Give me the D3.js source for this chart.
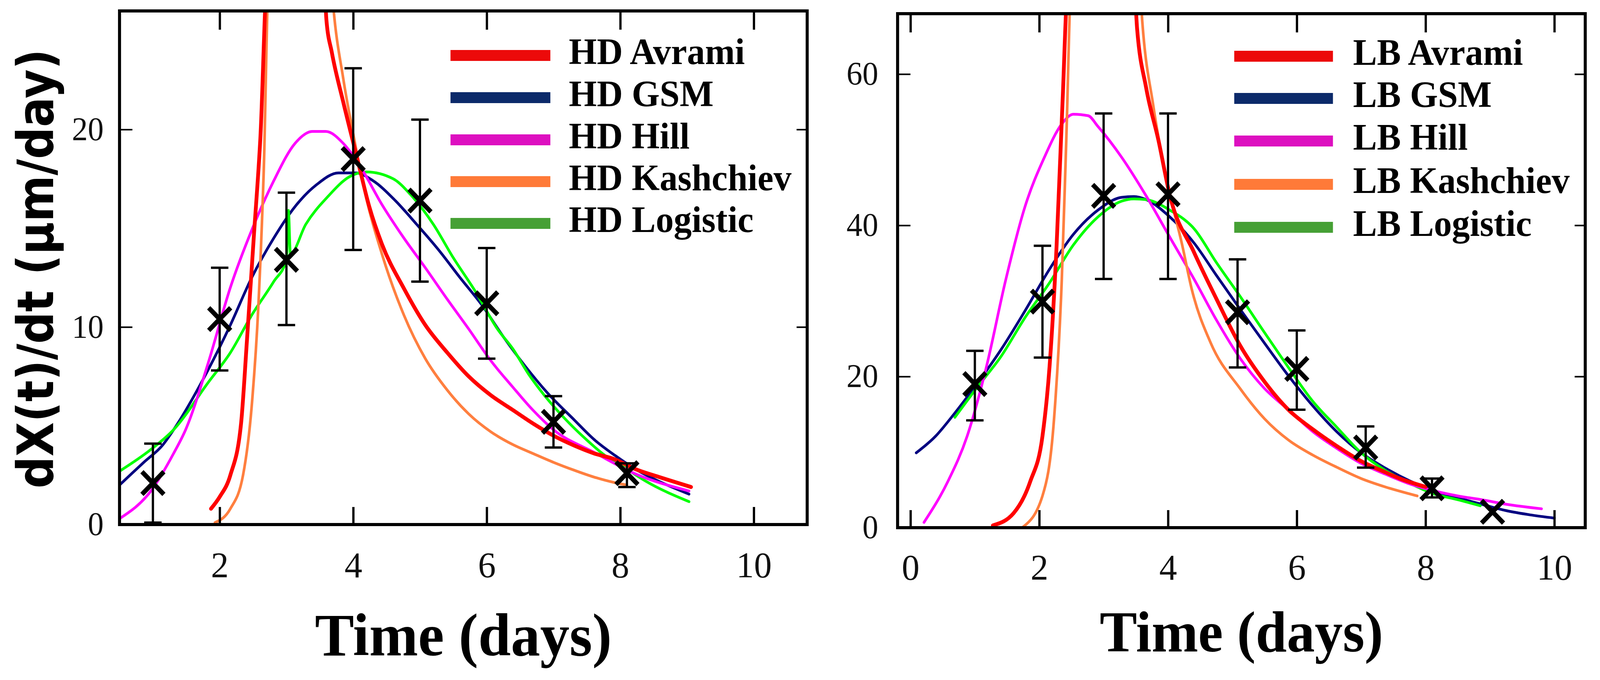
<!DOCTYPE html>
<html>
<head>
<meta charset="utf-8">
<script src="https://cdn.jsdelivr.net/npm/d3@7.9.0/dist/d3.min.js"></script>
<style>
  html, body { margin: 0; padding: 0; background: #fff; overflow: hidden; width: 100%; height: 100%; }
  svg { display: block; width: 100vw; height: 100vh; }
  .tick text { font-family: "Liberation Serif", "Times New Roman", serif; fill: #111; }
  .legend text, .xtitle { font-family: "Liberation Serif", "Times New Roman", serif; font-weight: bold; fill: #000; }
</style>
</head>
<body>
<svg id="chart" viewBox="0 0 4230 1741" preserveAspectRatio="none"></svg>
<script>
// model names, same order in both panels
const seriesNames = ['Avrami', 'GSM', 'Hill', 'Kashchiev', 'Logistic'];
const lineColors = ['#ff0000', '#000080', '#ff00ff', '#ff7f3f', '#00ff00'];
const legendColors = ['#ec0a0a', '#0c2a6a', '#dd10c0', '#ff7a38', '#46a035'];

// HD measurements (left panel)
const hdTime = [1, 2, 3, 4, 5, 6, 7, 8.1];
const hdRate = [2.1, 10.4, 13.4, 18.5, 16.4, 11.2, 5.2, 2.6];
const hdLow = [0.1, 7.8, 10.1, 13.9, 12.3, 8.4, 3.9, 1.9];
const hdHigh = [4.1, 13.0, 16.8, 23.1, 20.5, 14.0, 6.5, 3.1];

// HD fitted curves, [time, rate]
const hdAvrami = [[1.87,0.8],[2.0,1.4],[2.16,2.5],[2.32,5.1],[2.41,9.4],[2.51,14.5],[2.61,19.6],[2.72,28],[3.55,28],[3.6,25.5],
  [3.68,23.9],[3.85,21.4],[4.07,18.4],[4.24,16.1],[4.43,14.2],[4.76,11.95],[5.08,10.1],[5.41,8.7],[5.73,7.5],[6.06,6.55],
  [6.39,5.8],[6.7,5.1],[7.0,4.5],[7.31,4.0],[7.61,3.6],[7.92,3.3],[8.23,2.8],[8.54,2.45],[9.06,1.9]];
const hdGsm = [[0.5,2.0],[0.88,3.2],[1.14,4.0],[1.31,4.8],[1.83,7.85],[2.16,10.1],[2.48,12.5],[2.81,14.5],[3.13,16.1],
  [3.45,17.2],[3.78,17.8],[4.04,17.8],[4.3,17.4],[4.63,16.4],[4.95,15.2],[5.28,13.9],[5.6,12.5],[5.93,11.1],[6.25,9.5],
  [6.58,8.0],[6.9,6.7],[7.31,5.3],[7.61,4.3],[7.92,3.5],[8.23,2.8],[8.54,2.25],[9.03,1.54]];
const hdHill = [[0.5,0.3],[0.97,1.7],[1.31,3.6],[1.49,4.8],[1.83,8.2],[2.16,12.0],[2.48,14.9],[2.81,17.4],[3.13,19.3],
  [3.39,19.9],[3.59,19.9],[3.85,19.3],[4.11,18.1],[4.43,16.2],[4.76,14.5],[5.08,13.0],[5.41,11.4],[5.73,9.9],[6.06,8.3],
  [6.38,7.0],[6.69,5.8],[7.0,4.8],[7.61,3.65],[8.23,2.56],[9.03,1.7]];
const hdKashchiev = [[1.93,0.1],[2.16,0.8],[2.35,2.5],[2.48,6.0],[2.58,11.1],[2.66,17.9],[2.74,28],[3.66,28],[3.7,26.3],
  [3.85,22.6],[4.01,19.6],[4.17,16.9],[4.43,13.7],[4.76,10.6],[5.08,8.4],[5.41,6.8],[5.73,5.6],[6.06,4.7],[6.39,4.05],
  [6.69,3.6],[7.0,3.15],[7.31,2.75],[7.61,2.4],[7.92,2.12],[8.1,2.0]];
const hdLogistic = [[0.5,2.7],[0.97,3.8],[1.31,4.8],[1.83,7.2],[2.16,8.7],[2.48,10.6],[2.81,12.3],[3.0,13.4],[3.03,15.9],
  [3.06,13.7],[3.29,15.2],[3.62,16.6],[3.94,17.6],[4.2,17.85],[4.6,17.5],[4.86,16.7],[5.2,15.2],[5.5,13.5],[5.83,11.8],
  [6.16,9.9],[6.39,8.9],[6.63,7.6],[6.85,6.6],[7.16,5.4],[7.46,4.4],[7.77,3.5],[8.1,2.8],[8.38,2.2],[9.03,1.16]];

// LB measurements (right panel)
const lbTime = [1, 2.05, 3, 4, 5.08, 6, 7.07, 8.1, 9.04];
const lbRate = [19.0, 29.9, 43.9, 44.1, 28.5, 21.0, 10.6, 5.2, 2.1];
const lbLow = [14.2, 22.5, 32.9, 32.9, 21.2, 15.6, 7.95, 4.0, 2.1];
const lbHigh = [23.4, 37.3, 54.8, 54.8, 35.5, 26.1, 13.4, 6.5, 2.1];

// LB fitted curves, [time, rate]
const lbAvrami = [[1.28,0.3],[1.6,1.9],[1.86,6.1],[2.05,12.1],[2.16,21.3],[2.27,37.4],[2.36,55.9],[2.45,72],[3.47,72],
  [3.52,66],[3.66,58.2],[3.85,51.3],[4.03,43.9],[4.4,36.5],[4.75,30.3],[5.12,24.1],[5.5,19.3],[5.87,15.6],[6.25,13.0],
  [6.62,10.8],[7.0,8.8],[7.37,7.35],[7.6,6.5],[8.0,5.4]];
const lbGsm = [[0.09,9.9],[0.39,12.1],[0.66,14.85],[1.03,19.0],[1.41,23.6],[1.78,28.7],[2.16,34.2],[2.53,38.8],[2.91,42.0],
  [3.28,43.7],[3.47,43.8],[3.66,43.4],[4.03,41.1],[4.41,37.6],[4.75,33.4],[5.12,28.9],[5.5,24.4],[5.87,20.1],[6.25,16.1],
  [6.62,12.7],[7.0,9.9],[7.37,7.9],[7.75,6.2],[8.12,4.9],[8.5,3.95],[8.87,3.1],[9.25,2.26],[9.62,1.7],[10.0,1.27]];
const lbHill = [[0.21,0.7],[0.58,6.1],[0.88,12.1],[1.18,21.3],[1.48,32.8],[1.78,42.5],[2.08,49.0],[2.35,53.4],[2.53,54.7],
  [2.76,54.5],[2.91,53.1],[3.28,49.0],[3.66,43.9],[4.03,38.4],[4.41,32.8],[4.75,27.5],[5.12,22.4],[5.5,18.4],[5.87,15.6],
  [6.25,12.7],[6.62,10.5],[7.0,8.5],[7.37,7.1],[7.75,5.8],[8.12,4.9],[8.5,4.2],[8.87,3.7],[9.25,3.1],[9.8,2.5]];
const lbKashchiev = [[1.75,0.1],[2.05,4.2],[2.23,14.4],[2.35,32.8],[2.42,51.3],[2.5,72],[3.56,72],[3.6,67],[3.77,55.9],
  [3.96,46.7],[4.22,37.4],[4.37,31.5],[4.66,24.5],[5.12,18.4],[5.5,14.4],[5.87,11.6],[6.25,9.6],[6.62,8.0],[7.0,6.5],
  [7.37,5.4],[7.87,4.2]];
const lbLogistic = [[0.69,14.6],[1.03,18.5],[1.41,22.7],[1.78,27.8],[2.16,32.4],[2.53,37.4],[2.91,41.1],[3.28,43.2],
  [3.47,43.5],[3.66,43.4],[4.03,42.0],[4.41,39.5],[4.75,35.1],[5.12,30.6],[5.5,25.8],[5.87,21.2],[6.25,16.7],[6.62,13.3],
  [7.0,9.9],[7.37,7.6],[7.75,5.9],[8.12,4.5],[8.5,3.7],[8.85,2.9]];

// axis ticks
const hdXTicks = [2, 4, 6, 8, 10];
const hdYTicks = [0, 10, 20];
const lbXTicks = [0, 2, 4, 6, 8, 10];
const lbYTicks = [0, 20, 40, 60];

const yTitle = 'dX(t)/dt (\u03bcm/day)';
const xTitle = 'Time (days)';

const svg = d3.select('#chart');

const panels = [
  {
    id: 'hd', prefix: 'HD', xDomain: [0.5, 10.8], yDomain: [0, 26],
    left: 316, right: 2134, top: 28, bottom: 1343,
    curves: [hdAvrami, hdGsm, hdHill, hdKashchiev, hdLogistic],
    time: hdTime, rate: hdRate, low: hdLow, high: hdHigh,
    xTicks: hdXTicks, yTicks: hdYTicks,
    xPad: 68, yPad: 42,
    legendX: 1191, legendX2: 1455, legendTextX: 1504, legendBase: [164, 272, 380, 487, 594],
    titleSize: 155, titleBase: 1678
  },
  {
    id: 'lb', prefix: 'LB', xDomain: [-0.2, 10.48], yDomain: [0, 68],
    left: 2373, right: 4191, top: 35, bottom: 1351,
    curves: [lbAvrami, lbGsm, lbHill, lbKashchiev, lbLogistic],
    time: lbTime, rate: lbRate, low: lbLow, high: lbHigh,
    xTicks: lbXTicks, yTicks: lbYTicks,
    xPad: 66, yPad: 51,
    legendX: 3263, legendX2: 3524, legendTextX: 3577, legendBase: [166, 274, 383, 494, 604],
    titleSize: 148, titleBase: 1668
  }
];

// draw order: navy, green, magenta, orange, then red on top
const drawOrder = [1, 4, 2, 3, 0];

function drawPanel(p) {
  const g = svg.append('g').attr('class', 'panel-' + p.id);
  const x = d3.scaleLinear().domain(p.xDomain).range([p.left, p.right]);
  const y = d3.scaleLinear().domain(p.yDomain).range([p.bottom, p.top]);

  svg.append('clipPath').attr('id', 'clip-' + p.id)
    .append('rect')
    .attr('x', p.left).attr('y', p.top)
    .attr('width', p.right - p.left).attr('height', p.bottom - p.top);

  const line = d3.line()
    .x(d => x(d[0]))
    .y(d => y(d[1]))
    .curve(d3.curveMonotoneX);

  const curveG = g.append('g').attr('clip-path', `url(#clip-${p.id})`);
  drawOrder.forEach(i => {
    curveG.append('path')
      .datum(p.curves[i])
      .attr('d', line)
      .attr('fill', 'none')
      .attr('stroke', lineColors[i])
      .attr('stroke-width', i === 0 ? 10 : 7)
      .attr('stroke-linejoin', 'round')
      .attr('stroke-linecap', 'round');
  });

  // error bars
  const pts = p.time.map((t, i) => ({ t, v: p.rate[i], lo: p.low[i], hi: p.high[i] }));
  const eb = g.append('g').attr('stroke', '#000').attr('stroke-width', 6).attr('fill', 'none');
  pts.filter(d => d.hi > d.lo).forEach(d => {
    eb.append('line').attr('x1', x(d.t)).attr('x2', x(d.t)).attr('y1', y(d.lo)).attr('y2', y(d.hi));
    eb.append('line').attr('x1', x(d.t) - 23).attr('x2', x(d.t) + 23).attr('y1', y(d.lo)).attr('y2', y(d.lo));
    eb.append('line').attr('x1', x(d.t) - 23).attr('x2', x(d.t) + 23).attr('y1', y(d.hi)).attr('y2', y(d.hi));
  });

  // X markers
  g.append('g').selectAll('path')
    .data(pts)
    .join('path')
    .attr('transform', d => `translate(${x(d.t)},${y(d.v)})`)
    .attr('d', 'M-29,-29L29,29M-29,29L29,-29')
    .attr('stroke', '#000')
    .attr('stroke-width', 12)
    .attr('fill', 'none');

  // axes with inward ticks
  const xb = g.append('g').attr('transform', `translate(0,${p.bottom})`)
    .call(d3.axisBottom(x).tickValues(p.xTicks).tickSize(-45).tickPadding(p.xPad).tickFormat(d3.format('d')));
  xb.selectAll('text').attr('font-size', 94);
  const xt = g.append('g').attr('transform', `translate(0,${p.top})`)
    .call(d3.axisTop(x).tickValues(p.xTicks).tickSize(-48).tickFormat(''));
  const yl = g.append('g').attr('transform', `translate(${p.left},0)`)
    .call(d3.axisLeft(y).tickValues(p.yTicks).tickSize(-34).tickPadding(p.yPad).tickFormat(d3.format('d')));
  yl.selectAll('text').attr('font-size', 84);
  const yr = g.append('g').attr('transform', `translate(${p.right},0)`)
    .call(d3.axisRight(y).tickValues(p.yTicks).tickSize(-28).tickFormat(''));
  [xb, xt].forEach(a => a.selectAll('.tick line').attr('stroke', '#000').attr('stroke-width', 6));
  [yl, yr].forEach(a => a.selectAll('.tick line').attr('stroke', '#000').attr('stroke-width', 4));
  [xb, xt, yl, yr].forEach(a => a.select('.domain').remove());

  // frame
  g.append('rect')
    .attr('x', p.left).attr('y', p.top)
    .attr('width', p.right - p.left).attr('height', p.bottom - p.top)
    .attr('fill', 'none').attr('stroke', '#000').attr('stroke-width', 8);

  // legend
  const lg = g.append('g').attr('class', 'legend');
  seriesNames.forEach((name, i) => {
    const base = p.legendBase[i];
    lg.append('line')
      .attr('x1', p.legendX).attr('x2', p.legendX2)
      .attr('y1', base - 22).attr('y2', base - 22)
      .attr('stroke', legendColors[i]).attr('stroke-width', 28);
    lg.append('text')
      .attr('x', p.legendTextX).attr('y', base)
      .attr('font-size', 95)
      .text(`${p.prefix} ${name}`);
  });

  // x title
  g.append('text').attr('class', 'xtitle')
    .attr('x', (p.left + p.right) / 2).attr('y', p.titleBase)
    .attr('text-anchor', 'middle')
    .attr('font-size', p.titleSize)
    .text(xTitle);
}

panels.forEach(drawPanel);

// shared y title: squeeze it along its length to the reference span
const yTitleG = svg.append('g');
const yTitleText = yTitleG.append('text')
  .attr('text-anchor', 'middle')
  .attr('font-family', '"DejaVu Sans", Verdana, sans-serif')
  .attr('font-weight', 'bold')
  .attr('font-size', 132)
  .text(yTitle);
const natural = yTitleText.node().getComputedTextLength();
const squeeze = natural > 0 ? 1125 / natural : 1;
yTitleG.attr('transform', `translate(140,688) rotate(-90) scale(${squeeze},1)`);
</script>
</body>
</html>
